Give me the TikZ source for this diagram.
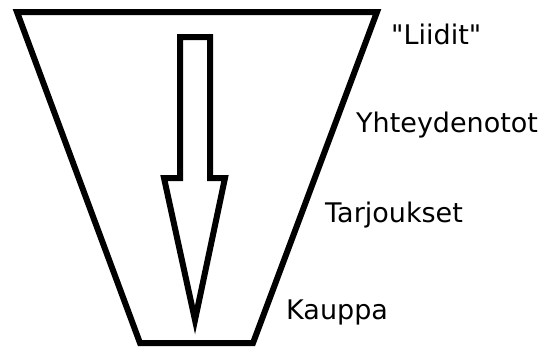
\documentclass[tikz,border=0pt]{standalone}
\usepackage{fontspec}
\newfontfamily\stagefont{DejaVu Sans}
\usetikzlibrary{positioning}
\definecolor{funnelink}{RGB}{0,0,0}

\begin{document}
\begin{tikzpicture}[x=1pt, y=-1pt, font=\stagefont\fontsize{27}{32}\selectfont,
    outline/.style={draw=funnelink, line width=6pt, line join=miter},
    stage/.style={anchor=base west, inner sep=0pt, text=funnelink}]
      \useasboundingbox (0,0) rectangle (548,349);
      % Funnel
      \coordinate (tl) at (17,12);
      \coordinate (tr) at (377,12);
      \coordinate (br) at (253,343);
      \coordinate (bl) at (140,343);
      \draw[outline] (tl) -- (tr) -- (br) -- (bl) -- cycle;
      % Arrow down the funnel
      \coordinate (sl) at (180,37);
      \coordinate (sr) at (210,37);
      \coordinate (tip) at (195,320);
      \draw[outline] (sl) -- (sr) -- (210,178) -- (225,178)
        -- (tip) -- (164,178) -- (180,178) -- cycle;
      % Stages
      \node[stage] (liidit) at (391,44) {"Liidit"};
      \node[stage] (yhteys) at (356,132) {Yhteydenotot};
      \node[stage] (tarjous) at (325,222) {Tarjoukset};
      \node[stage] (kauppa) at (286,319) {Kauppa};
    \end{tikzpicture}
\end{document}
